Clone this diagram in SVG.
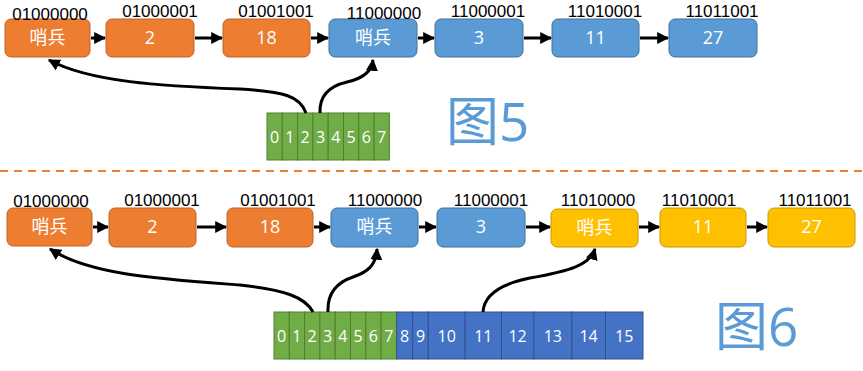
<svg xmlns="http://www.w3.org/2000/svg" width="863" height="371" viewBox="0 0 863 371">
<defs>
<marker id="ah" viewBox="0 0 10 10" refX="9" refY="5" markerWidth="4" markerHeight="4" orient="auto" markerUnits="strokeWidth">
<path d="M0,0 L10,5 L0,10 z" fill="#000"/>
</marker>
<style>
.o{fill:#ED7D31;stroke:#C0632A;stroke-width:1}
.b{fill:#5B9BD5;stroke:#41719C;stroke-width:1}
.y{fill:#FFC000;stroke:#C99A00;stroke-width:1}
.g{fill:#70AD47;stroke:#507E32;stroke-width:1}
.bl{fill:#4472C4;stroke:#2F528F;stroke-width:1}
.nt{font-family:"Open Sans","Noto Sans CJK SC",sans-serif;font-size:18px;fill:#fff;text-anchor:middle}
.ct{font-family:"Open Sans","Noto Sans CJK SC",sans-serif;font-size:16px;fill:#fff;text-anchor:middle}
.lb{font-family:"Liberation Sans",Arial,sans-serif;font-size:17px;fill:#000;text-anchor:middle}
.big{font-family:"Open Sans","Noto Sans CJK SC",sans-serif;font-size:53px;fill:#5B9BD5}
.ar{fill:none;stroke:#000;stroke-width:3;marker-end:url(#ah)}
.cv{fill:none;stroke:#000;stroke-width:3;marker-end:url(#ah)}
</style>
</defs>
<rect width="863" height="371" fill="#fff"/>

<!-- Figure 5 nodes -->
<g id="f5n1"><rect class="o" x="5" y="19" width="85" height="38" rx="6"/><text class="nt" x="47.5" y="44">哨兵</text><text class="lb" x="50" y="20">01000000</text></g>
<g id="f5n2"><rect class="o" x="106" y="19" width="88" height="38" rx="6"/><text class="nt" x="150" y="44">2</text><text class="lb" x="160" y="17">01000001</text></g>
<g id="f5n3"><rect class="o" x="223" y="19" width="87" height="38" rx="6"/><text class="nt" x="266.5" y="44">18</text><text class="lb" x="276" y="17">01001001</text></g>
<g id="f5n4"><rect class="b" x="329" y="19" width="88" height="38" rx="6"/><text class="nt" x="373" y="44">哨兵</text><text class="lb" x="384" y="19">11000000</text></g>
<g id="f5n5"><rect class="b" x="435" y="19" width="88" height="38" rx="6"/><text class="nt" x="479" y="44">3</text><text class="lb" x="488" y="17">11000001</text></g>
<g id="f5n6"><rect class="b" x="552" y="19" width="87" height="38" rx="6"/><text class="nt" x="595.5" y="44">11</text><text class="lb" x="605" y="17">11010001</text></g>
<g id="f5n7"><rect class="b" x="669" y="19" width="88" height="38" rx="6"/><text class="nt" x="713" y="44">27</text><text class="lb" x="722" y="17">11011001</text></g>

<!-- Figure 5 array -->
<g id="f5arr">
<rect class="g" x="267" y="113" width="15.3" height="47"/>
<rect class="g" x="282.3" y="113" width="15.3" height="47"/>
<rect class="g" x="297.6" y="113" width="15.3" height="47"/>
<rect class="g" x="312.9" y="113" width="15.3" height="47"/>
<rect class="g" x="328.2" y="113" width="15.3" height="47"/>
<rect class="g" x="343.5" y="113" width="15.3" height="47"/>
<rect class="g" x="358.8" y="113" width="15.3" height="47"/>
<rect class="g" x="374.1" y="113" width="15.3" height="47"/>
<text class="ct" x="274.6" y="143">0</text>
<text class="ct" x="289.9" y="143">1</text>
<text class="ct" x="305.2" y="143">2</text>
<text class="ct" x="320.5" y="143">3</text>
<text class="ct" x="335.8" y="143">4</text>
<text class="ct" x="351.1" y="143">5</text>
<text class="ct" x="366.4" y="143">6</text>
<text class="ct" x="381.7" y="143">7</text>
</g>

<text class="big" x="446" y="141">图5</text>

<!-- divider -->
<line x1="0" y1="171" x2="863" y2="171" stroke="#ED7D31" stroke-width="2" stroke-dasharray="8 6"/>

<!-- Figure 6 nodes -->
<g id="f6n1"><rect class="o" x="7" y="208" width="85" height="38" rx="6"/><text class="nt" x="49.5" y="233">哨兵</text><text class="lb" x="51" y="207">01000000</text></g>
<g id="f6n2"><rect class="o" x="109" y="208" width="87" height="39" rx="6"/><text class="nt" x="152.5" y="233">2</text><text class="lb" x="162" y="206">01000001</text></g>
<g id="f6n3"><rect class="o" x="227" y="208" width="86" height="39" rx="6"/><text class="nt" x="270" y="233">18</text><text class="lb" x="278" y="206">01001001</text></g>
<g id="f6n4"><rect class="b" x="331" y="208" width="87" height="39" rx="6"/><text class="nt" x="374.5" y="233">哨兵</text><text class="lb" x="385" y="206">11000000</text></g>
<g id="f6n5"><rect class="b" x="437" y="208" width="88" height="39" rx="6"/><text class="nt" x="481" y="233">3</text><text class="lb" x="491" y="206">11000001</text></g>
<g id="f6n6"><rect class="y" x="551" y="209" width="87" height="38" rx="6"/><text class="nt" x="594.5" y="234">哨兵</text><text class="lb" x="598" y="206">11010000</text></g>
<g id="f6n7"><rect class="y" x="660" y="208" width="86" height="39" rx="6"/><text class="nt" x="703" y="233">11</text><text class="lb" x="699" y="206">11010001</text></g>
<g id="f6n8"><rect class="y" x="768" y="208" width="87" height="39" rx="6"/><text class="nt" x="811.5" y="233">27</text><text class="lb" x="815" y="206">11011001</text></g>

<!-- Figure 6 array -->
<g id="f6arr">
<rect class="g" x="274" y="312" width="15.3" height="47"/>
<rect class="g" x="289.3" y="312" width="15.3" height="47"/>
<rect class="g" x="304.6" y="312" width="15.3" height="47"/>
<rect class="g" x="319.9" y="312" width="15.3" height="47"/>
<rect class="g" x="335.2" y="312" width="15.3" height="47"/>
<rect class="g" x="350.5" y="312" width="15.3" height="47"/>
<rect class="g" x="365.8" y="312" width="15.3" height="47"/>
<rect class="g" x="381.1" y="312" width="15.6" height="47"/>
<rect class="bl" x="396.7" y="312" width="16" height="47"/>
<rect class="bl" x="412.7" y="312" width="15.6" height="47"/>
<rect class="bl" x="428.3" y="312" width="36.9" height="47"/>
<rect class="bl" x="465.2" y="312" width="36.3" height="47"/>
<rect class="bl" x="501.5" y="312" width="32.3" height="47"/>
<rect class="bl" x="533.8" y="312" width="38" height="47"/>
<rect class="bl" x="571.8" y="312" width="33.7" height="47"/>
<rect class="bl" x="605.5" y="312" width="37.5" height="47"/>
<text class="ct" x="281.6" y="342">0</text>
<text class="ct" x="296.9" y="342">1</text>
<text class="ct" x="312.2" y="342">2</text>
<text class="ct" x="327.5" y="342">3</text>
<text class="ct" x="342.8" y="342">4</text>
<text class="ct" x="358.1" y="342">5</text>
<text class="ct" x="373.4" y="342">6</text>
<text class="ct" x="388.9" y="342">7</text>
<text class="ct" x="404.7" y="342">8</text>
<text class="ct" x="420.5" y="342">9</text>
<text class="ct" x="446.7" y="342">10</text>
<text class="ct" x="483.3" y="342">11</text>
<text class="ct" x="517.6" y="342">12</text>
<text class="ct" x="552.8" y="342">13</text>
<text class="ct" x="588.6" y="342">14</text>
<text class="ct" x="624.2" y="342">15</text>
</g>

<text class="big" x="715" y="346">图6</text>

<!-- connectors -->
<g id="connectors">
<line class="ar" x1="91" y1="38" x2="105" y2="38"/>
<line class="ar" x1="195" y1="38" x2="222" y2="38"/>
<line class="ar" x1="311" y1="38" x2="328" y2="38"/>
<line class="ar" x1="418" y1="38" x2="434" y2="38"/>
<line class="ar" x1="524" y1="38" x2="551" y2="38"/>
<line class="ar" x1="640" y1="38" x2="668" y2="38"/>
<path class="cv" d="M306,113 C300,96 285,92 240,89 C160,86 90,82 49,60"/>
<path class="cv" d="M320,113 C319,95 330,86 347,82 C365,78 372,70 373,60"/>

<line class="ar" x1="93" y1="227" x2="108" y2="227"/>
<line class="ar" x1="197" y1="227" x2="226" y2="227"/>
<line class="ar" x1="314" y1="227" x2="330" y2="227"/>
<line class="ar" x1="419" y1="227" x2="436" y2="227"/>
<line class="ar" x1="526" y1="227" x2="550" y2="227"/>
<line class="ar" x1="639" y1="227" x2="659" y2="227"/>
<line class="ar" x1="747" y1="227" x2="767" y2="227"/>
<path class="cv" d="M313,312 C305,297 285,290 240,285 C160,279 90,275 50,249"/>
<path class="cv" d="M328,312 C327,292 338,282 353,277 C368,272 376,265 377,249"/>
<path class="cv" d="M483,312 C484,295 500,284 530,278 C570,271 590,265 595,249"/>
</g>
</svg>
